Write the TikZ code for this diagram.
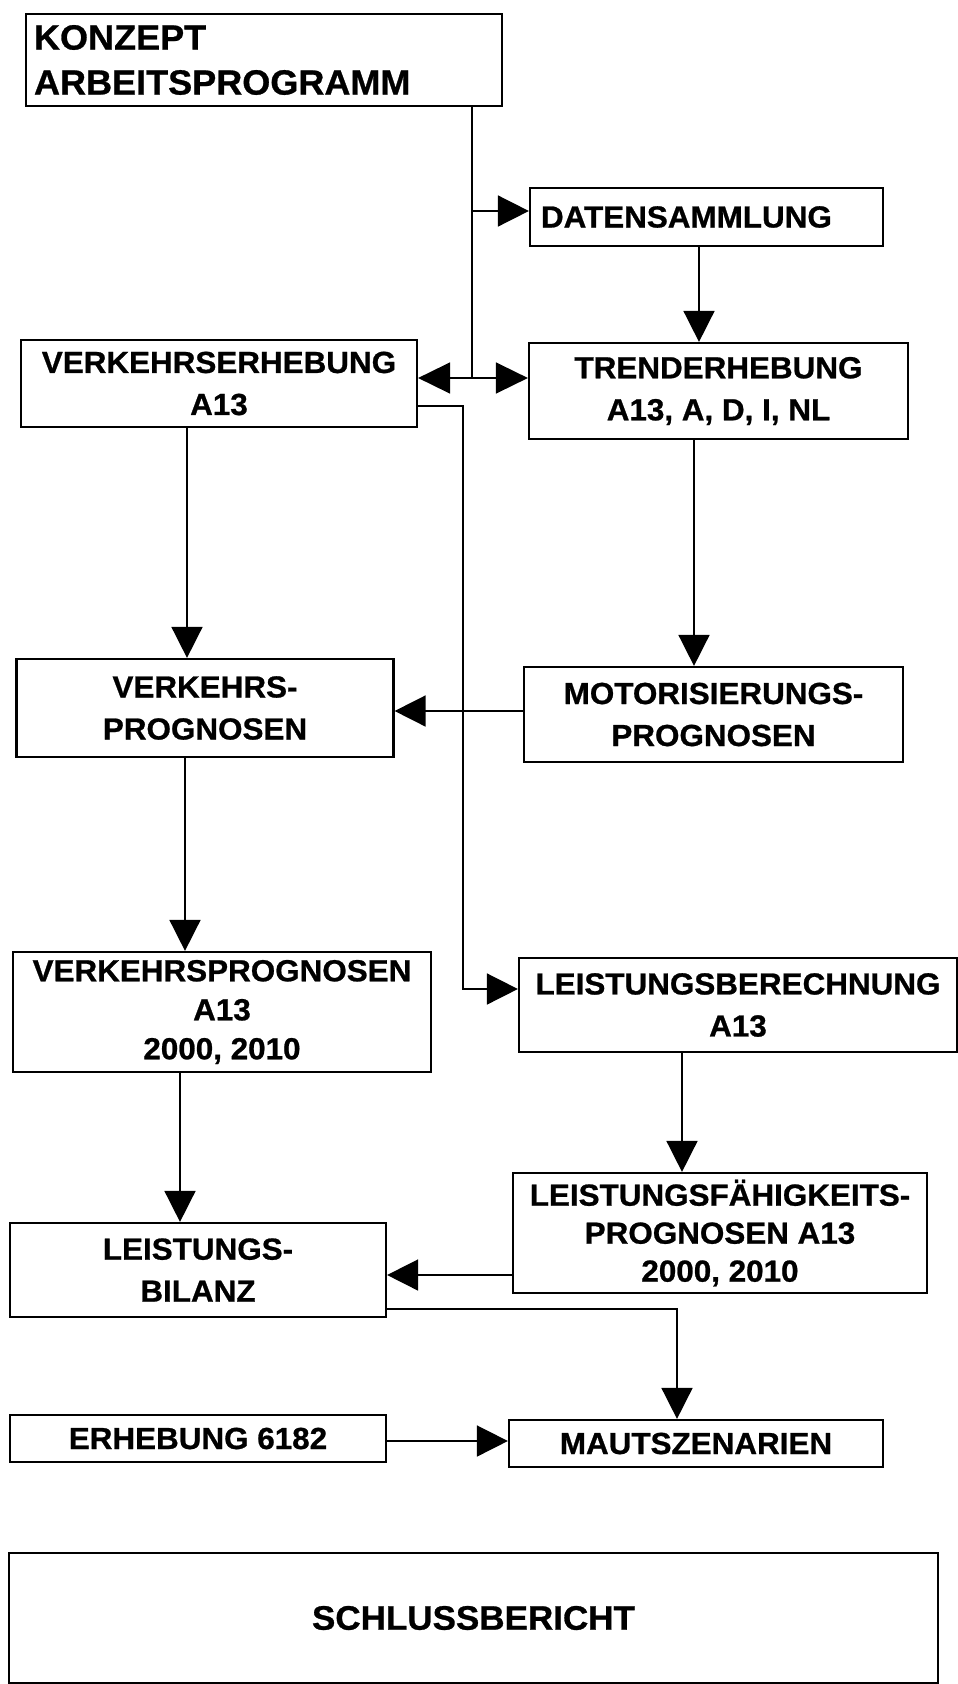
\documentclass[tikz,border=0pt]{standalone}
\usepackage{fontspec}
\setmainfont{Liberation Sans}[FakeStretch=1.03, BoldFeatures={FakeBold=0.8}]
\usetikzlibrary{arrows.meta}
\begin{document}
\begin{tikzpicture}[x=1pt,y=-1pt,
  box/.style={draw, line width=2.2pt, inner sep=0pt, align=center,
    font=\bfseries\fontsize{30.5pt}{42pt}\selectfont},
  leftbox/.style={box, align=left, inner xsep=#1},
  conn/.style={line width=1.6pt},
  arr/.style={conn, -{Triangle[length=31pt,width=31pt]}},
  dblarr/.style={conn, {Triangle[length=32pt,width=31pt]}-{Triangle[length=32pt,width=31pt]}}]
\fill[white] (0,0) rectangle (958,1684);
\useasboundingbox (0,0) rectangle (958,1684);

% boxes
\node[leftbox=8pt, text width=460pt, minimum height=92pt,
  font=\bfseries\fontsize{35pt}{45pt}\selectfont] (konz) at (264,60) {KONZEPT\\ARBEITSPROGRAMM};
\node[leftbox=11pt, text width=331pt, minimum height=58pt] (daten) at (706.5,217) {DATENSAMMLUNG};
\node[box, minimum width=396pt, minimum height=87pt] (verk) at (219,383.5) {VERKEHRSERHEBUNG\\A13};
\node[box, minimum width=379pt, minimum height=96pt] (trend) at (718.5,391) {TRENDERHEBUNG\\A13, A, D, I, NL};
\node[box, minimum width=377pt, minimum height=98pt] (vprog) at (205,708) {VERKEHRS-\\PROGNOSEN};
\node[box, minimum width=379pt, minimum height=95pt] (motor) at (713.5,714.5) {MOTORISIERUNGS-\\PROGNOSEN};
\node[box, minimum width=418pt, minimum height=120pt, font=\bfseries\fontsize{30.5pt}{39pt}\selectfont] (vpa) at (222,1012) {VERKEHRSPROGNOSEN\\A13\\2000, 2010};
\node[box, minimum width=438pt, minimum height=94pt] (lber) at (738,1005) {LEISTUNGSBERECHNUNG\\A13};
\node[box, minimum width=414pt, minimum height=120pt, font=\bfseries\fontsize{30.5pt}{38pt}\selectfont] (lfaeh) at (720,1233) {LEISTUNGSFÄHIGKEITS-\\PROGNOSEN A13\\2000, 2010};
\node[box, minimum width=376pt, minimum height=94pt] (bilanz) at (198,1270) {LEISTUNGS-\\BILANZ};
\node[box, minimum width=376pt, minimum height=47pt] (erheb) at (198,1438.5) {ERHEBUNG 6182};
\node[box, minimum width=374pt, minimum height=47pt] (maut) at (696,1443.5) {MAUTSZENARIEN};
\node[box, minimum width=929pt, minimum height=130pt,
  font=\bfseries\fontsize{34pt}{40pt}\selectfont] (schluss) at (473.5,1618) {SCHLUSSBERICHT};

% helper coordinates
\coordinate (xk) at (472,0);
\coordinate (ydbl) at (0,378);
\coordinate (yd) at (0,211);
\coordinate (xdt) at (699,0);
\coordinate (xvv) at (187,0);
\coordinate (xtm) at (694,0);
\coordinate (ymv) at (0,711);
\coordinate (yvl) at (0,406);
\coordinate (xvl) at (463,0);
\coordinate (ylb) at (0,989);
\coordinate (xva) at (185,0);
\coordinate (xlf) at (682,0);
\coordinate (xab) at (180,0);
\coordinate (yfb) at (0,1275);
\coordinate (ybm) at (0,1309);
\coordinate (xbm) at (677,0);
\coordinate (yem) at (0,1441);

% connectors
\draw[conn] (konz.south -| xk) -- (xk |- ydbl);
\draw[arr] (xk |- yd) -- (daten.west |- yd);
\draw[dblarr] (verk.east |- ydbl) -- (trend.west |- ydbl);
\draw[arr] (daten.south -| xdt) -- (trend.north -| xdt);
\draw[arr] (verk.south -| xvv) -- (vprog.north -| xvv);
\draw[arr] (trend.south -| xtm) -- (motor.north -| xtm);
\draw[arr] (motor.west |- ymv) -- (vprog.east |- ymv);
\draw[arr] (verk.east |- yvl) -- (xvl |- yvl) -- (xvl |- ylb) -- (lber.west |- ylb);
\draw[arr] (vprog.south -| xva) -- (vpa.north -| xva);
\draw[arr] (lber.south -| xlf) -- (lfaeh.north -| xlf);
\draw[arr] (vpa.south -| xab) -- (bilanz.north -| xab);
\draw[arr] (lfaeh.west |- yfb) -- (bilanz.east |- yfb);
\draw[arr] (bilanz.east |- ybm) -- (xbm |- ybm) -- (maut.north -| xbm);
\draw[arr] (erheb.east |- yem) -- (maut.west |- yem);
\end{tikzpicture}
\end{document}
